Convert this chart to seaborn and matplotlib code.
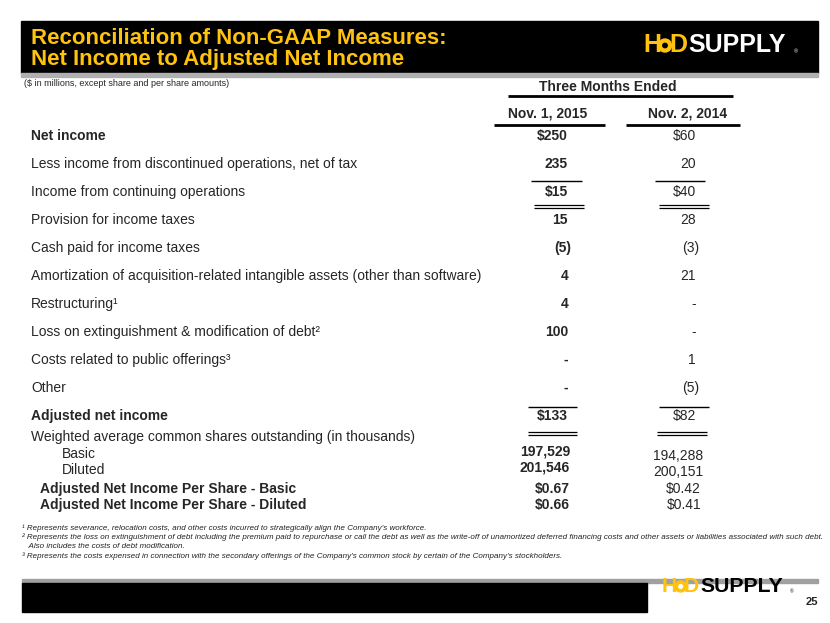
import matplotlib.pyplot as plt
import seaborn as sns
import pandas as pd

title_lines = ["Reconciliation of Non-GAAP Measures:", "Net Income to Adjusted Net Income"]
subtitle = "($ in millions, except share and per share amounts)"
period_header = "Three Months Ended"
periods = ["Nov. 1, 2015", "Nov. 2, 2014"]

row_labels = [
    "Net income",
    "Less income from discontinued operations, net of tax",
    "Income from continuing operations",
    "Provision for income taxes",
    "Cash paid for income taxes",
    "Amortization of acquisition-related intangible assets (other than software)",
    "Restructuring\u00b9",
    "Loss on extinguishment & modification of debt\u00b2",
    "Costs related to public offerings\u00b3",
    "Other",
    "Adjusted net income",
]
q3_2015 = ["$250", "235", "$15", "15", "(5)", "4", "4", "100", "-", "-", "$133"]
q3_2014 = ["$60", "20", "$40", "28", "(3)", "21", "-", "-", "1", "(5)", "$82"]
bold_rows = ["Net income", "Adjusted net income"]

shares_title = "Weighted average common shares outstanding (in thousands)"
share_labels = ["Basic", "Diluted"]
shares_2015 = ["197,529", "201,546"]
shares_2014 = ["194,288", "200,151"]

eps_labels = ["Adjusted Net Income Per Share - Basic", "Adjusted Net Income Per Share - Diluted"]
eps_2015 = ["$0.67", "$0.66"]
eps_2014 = ["$0.42", "$0.41"]

footnotes = [
    "\u00b9 Represents severance, relocation costs, and other costs incurred to strategically align the Company\u2019s workforce.",
    "\u00b2 Represents the loss on extinguishment of debt including the premium paid to repurchase or call the debt as well as the write-off of unamortized deferred financing costs and other assets or liabilities associated with such debt.",
    "   Also includes the costs of debt modification.",
    "\u00b3 Represents the costs expensed in connection with the secondary offerings of the Company\u2019s common stock by certain of the Company\u2019s stockholders.",
]
page_no = "25"

sns.set_theme(style="white")
plt.rcParams["font.family"] = ["Liberation Sans", "DejaVu Sans"]
YELLOW = "#FFC20E"
FS = 10

table = pd.DataFrame({"label": row_labels, "q2015": q3_2015, "q2014": q3_2014})

fig = plt.figure(figsize=(8.3, 6.23), dpi=100)
ax = fig.add_axes([0, 0, 1, 1])
ax.set_xlim(0, 830)
ax.set_ylim(623, 0)
ax.axis("off")

# header bar
ax.add_patch(plt.Rectangle((21, 21), 797, 52, color="black"))
ax.add_patch(plt.Rectangle((21, 73), 797, 4, color="#b0b0b0"))
for i, line in enumerate(title_lines):
    ax.text(31, 38 + i * 22, line, color=YELLOW, fontsize=16, fontweight="bold",
            va="center", ha="left")


def logo(x, y, s, word_color, bg):
    # s = scale, 1.0 for the header logo
    ax.text(x, y, "H", color=YELLOW, fontsize=18 * s, fontweight="heavy",
            va="center", ha="left")
    ax.add_patch(plt.Circle((x + 22 * s, y + 0.5 * s), 6.5 * s, color=YELLOW))
    ax.add_patch(plt.Circle((x + 22 * s, y + 0.5 * s), 2.2 * s, color=bg))
    ax.text(x + 26 * s, y, "D", color=YELLOW, fontsize=18 * s, fontweight="heavy",
            va="center", ha="left")
    ax.text(x + 45 * s, y, "SUPPLY", color=word_color, fontsize=18 * s,
            fontweight="heavy", va="center", ha="left")
    ax.text(x + 151 * s, y + 7 * s, "\u00ae", color=word_color, fontsize=4 * s,
            va="center", ha="left")


logo(643, 45, 1.0, "white", "black")

# column headers
ax.text(24, 84, subtitle, fontsize=6.5, va="center", ha="left")
ax.text(608, 87, period_header, fontsize=FS, fontweight="bold", va="center", ha="center")
ax.hlines(96, 508, 733, color="black", lw=2)
for x, p in zip([548, 688], periods):
    ax.text(x, 114, p, fontsize=FS, fontweight="bold", va="center", ha="center")
ax.hlines(125, 494, 605, color="black", lw=2)
ax.hlines(125, 626, 740, color="black", lw=2)

# main table
for i, r in table.iterrows():
    y = 136 + i * 28
    weight = "bold" if r["label"] in bold_rows else "normal"
    ax.text(31, y, r["label"], fontsize=FS, fontweight=weight, va="center", ha="left")
    off1 = 3 if r["q2015"].endswith(")") else 0
    off2 = 3 if r["q2014"].endswith(")") else 0
    ax.text(568 + off1, y, r["q2015"], fontsize=FS, fontweight="bold", va="center", ha="right")
    ax.text(696 + off2, y, r["q2014"], fontsize=FS, va="center", ha="right")

# rules
ax.hlines(181, 531, 582, color="black", lw=1)
ax.hlines(181, 655, 705, color="black", lw=1)
for yy in (205, 208):
    ax.hlines(yy, 534, 584, color="black", lw=0.9)
    ax.hlines(yy, 659, 709, color="black", lw=0.9)
ax.hlines(407, 528, 577, color="black", lw=1)
ax.hlines(407, 659, 709, color="black", lw=1)
for yy in (432, 435):
    ax.hlines(yy, 528, 577, color="black", lw=0.9)
    ax.hlines(yy, 657, 707, color="black", lw=0.9)

# shares
ax.text(31, 437, shares_title, fontsize=FS, va="center", ha="left")
for i, lab in enumerate(share_labels):
    y = 454 + i * 16
    ax.text(62, y, lab, fontsize=FS, va="center", ha="left")
    ax.text(570, y - 2, shares_2015[i], fontsize=FS, fontweight="bold", va="center", ha="right")
    ax.text(703, y + 2, shares_2014[i], fontsize=FS, va="center", ha="right")
for i, lab in enumerate(eps_labels):
    y = 489 + i * 16
    ax.text(40, y, lab, fontsize=FS, fontweight="bold", va="center", ha="left")
    ax.text(570, y, eps_2015[i], fontsize=FS, fontweight="bold", va="center", ha="right")
    ax.text(701, y, eps_2014[i], fontsize=FS, va="center", ha="right")

# footnotes
for i, note in enumerate(footnotes):
    ax.text(22, 528 + i * 9.3, note, fontsize=5.8, style="italic",
            va="center", ha="left", color="#222222")

# footer
ax.add_patch(plt.Rectangle((22, 579), 796, 4, color="#a0a0a0"))
ax.add_patch(plt.Rectangle((22, 583), 625, 29, color="black"))
logo(662, 586, 0.85, "black", "white")
ax.text(812, 602, page_no, fontsize=8, fontweight="bold", va="center", ha="center")

fig.savefig("out.png", dpi=100)
